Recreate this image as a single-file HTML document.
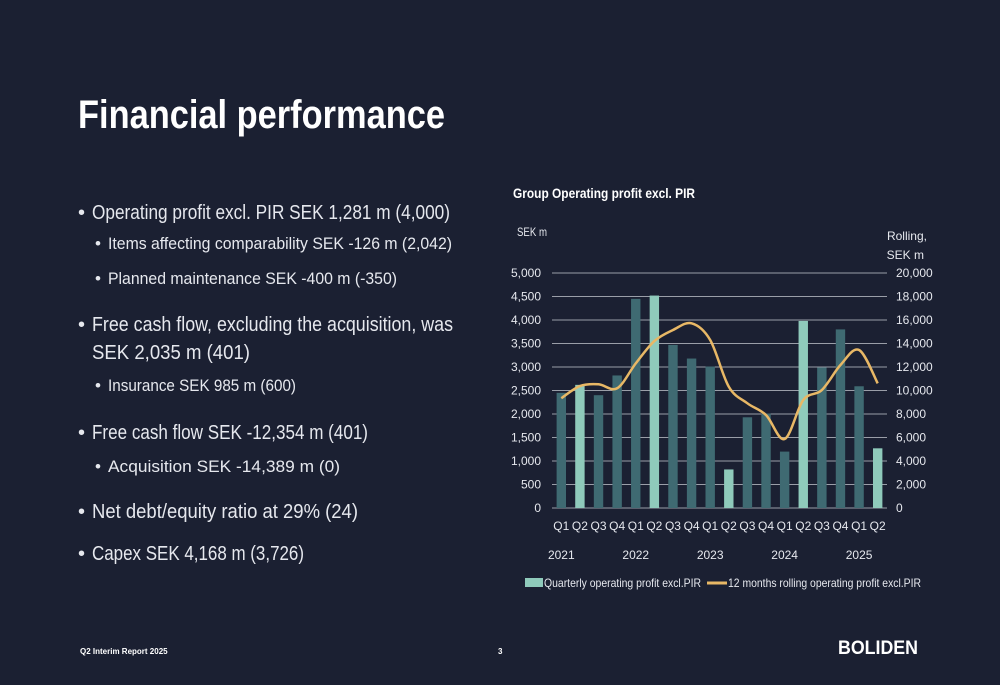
<!DOCTYPE html>
<html><head><meta charset="utf-8"><style>
html,body{margin:0;padding:0;background:#1b2032;}
svg{display:block;font-family:"Liberation Sans",sans-serif;}
</style></head><body>
<svg id="s" width="1000" height="685" viewBox="0 0 1000 685">
<rect width="1000" height="685" fill="#1b2032"/>
<text x="78" y="128" fill="#fff" font-size="40" font-weight="bold" textLength="367" lengthAdjust="spacingAndGlyphs">Financial performance</text>
<g fill="#e6e8ee">
<text x="78" y="219" font-size="20">•</text>
<text x="92" y="219" font-size="20" textLength="358" lengthAdjust="spacingAndGlyphs">Operating profit excl. PIR SEK 1,281 m (4,000)</text>
<text x="95" y="249" font-size="17">•</text>
<text x="108" y="249" font-size="17" textLength="344" lengthAdjust="spacingAndGlyphs">Items affecting comparability SEK -126 m (2,042)</text>
<text x="95" y="284" font-size="17">•</text>
<text x="108" y="284" font-size="17" textLength="289" lengthAdjust="spacingAndGlyphs">Planned maintenance SEK -400 m (-350)</text>
<text x="78" y="331" font-size="20">•</text>
<text x="92" y="331" font-size="20" textLength="361" lengthAdjust="spacingAndGlyphs">Free cash flow, excluding the acquisition, was</text>
<text x="92" y="359" font-size="20" textLength="158" lengthAdjust="spacingAndGlyphs">SEK 2,035 m (401)</text>
<text x="95" y="391" font-size="17">•</text>
<text x="108" y="391" font-size="17" textLength="188" lengthAdjust="spacingAndGlyphs">Insurance SEK 985 m (600)</text>
<text x="78" y="439" font-size="20">•</text>
<text x="92" y="439" font-size="20" textLength="276" lengthAdjust="spacingAndGlyphs">Free cash flow SEK -12,354 m (401)</text>
<text x="95" y="472" font-size="17">•</text>
<text x="108" y="472" font-size="17" textLength="232" lengthAdjust="spacingAndGlyphs">Acquisition SEK -14,389 m (0)</text>
<text x="78" y="518" font-size="20">•</text>
<text x="92" y="518" font-size="20" textLength="266" lengthAdjust="spacingAndGlyphs">Net debt/equity ratio at 29% (24)</text>
<text x="78" y="560" font-size="20">•</text>
<text x="92" y="560" font-size="20" textLength="212" lengthAdjust="spacingAndGlyphs">Capex SEK 4,168 m (3,726)</text>
</g>
<text x="513" y="198" fill="#fff" font-size="14" font-weight="bold" textLength="182" lengthAdjust="spacingAndGlyphs">Group Operating profit excl. PIR</text>
<text x="517" y="236" fill="#e6e8ee" font-size="12" textLength="30" lengthAdjust="spacingAndGlyphs">SEK m</text>
<text x="927" y="240" fill="#e6e8ee" font-size="12" text-anchor="end">Rolling,</text>
<text x="924" y="259" fill="#e6e8ee" font-size="12" text-anchor="end">SEK m</text>
<g id="grid"></g><g id="bars"></g><g id="line"></g><g id="labels"></g>
<rect x="525" y="578" width="18" height="9" fill="#8fcabb"/>
<text x="544" y="587" fill="#e6e8ee" font-size="12" textLength="157" lengthAdjust="spacingAndGlyphs">Quarterly operating profit excl.PIR</text>
<line x1="707" y1="583" x2="727" y2="583" stroke="#e8b866" stroke-width="3"/>
<text x="728" y="587" fill="#e6e8ee" font-size="12" textLength="193" lengthAdjust="spacingAndGlyphs">12 months rolling operating profit excl.PIR</text>
<text x="80" y="654" fill="#fff" font-size="8" font-weight="bold">Q2 Interim Report 2025</text>
<text x="498" y="654" fill="#fff" font-size="8" font-weight="bold">3</text>
<text x="838" y="654" fill="#fff" font-size="19" font-weight="bold" textLength="80" lengthAdjust="spacingAndGlyphs">BOLIDEN</text>
</svg>
<script>
const quarters=["Q1","Q2","Q3","Q4","Q1","Q2","Q3","Q4","Q1","Q2","Q3","Q4","Q1","Q2","Q3","Q4","Q1","Q2"];
const years=["2021","2022","2023","2024","2025"];
const quarterly=[2450,2620,2400,2820,4450,4520,3470,3180,3010,820,1930,2010,1200,3980,2990,3800,2590,1270];
const rolling=[9340,10380,10530,10190,12310,14210,15150,15720,14300,10320,8910,7910,5870,9190,10040,12170,13450,10610];
const leftTicks=[0,500,1000,1500,2000,2500,3000,3500,4000,4500,5000];
const rightTicks=[0,2000,4000,6000,8000,10000,12000,14000,16000,18000,20000];
const NS="http://www.w3.org/2000/svg";
const x0=552,x1=887,yB=508,yT=273;
const yL=v=>yB-(v/5000)*(yB-yT);
const yR=v=>yB-(v/20000)*(yB-yT);
const step=(x1-x0)/quarters.length;
const xc=i=>x0+step*(i+0.5);
function mk(t,a,p){const e=document.createElementNS(NS,t);for(const k in a)e.setAttribute(k,a[k]);document.getElementById(p).appendChild(e);return e;}
leftTicks.forEach((v,i)=>{
const l=mk("line",{x1:x0,x2:x1,y1:yL(v),y2:yL(v),stroke:"#9a9ea8","stroke-width":1},"grid");


const t=mk("text",{x:541,y:yL(v)+4,fill:"#e6e8ee","font-size":12,"text-anchor":"end"},"labels");t.textContent=v.toLocaleString("en-US");


});
rightTicks.forEach(v=>{
const t=mk("text",{x:896,y:yR(v)+4,fill:"#e6e8ee","font-size":12},"labels");t.textContent=v.toLocaleString("en-US");


});
quarterly.forEach((v,i)=>{
const b=mk("rect",{x:xc(i)-4.7,y:yL(v),width:9.4,height:yB-yL(v),fill:quarters[i]==="Q2"?"#8fcabb":"#3f6a72"},"bars");


const t=mk("text",{x:xc(i),y:530,fill:"#e6e8ee","font-size":12,"text-anchor":"middle"},"labels");t.textContent=quarters[i];


});
years.forEach((y,k)=>{
const t=mk("text",{x:xc(k*4),y:559,fill:"#e6e8ee","font-size":12,"text-anchor":"middle"},"labels");t.textContent=y;


});
const pts=rolling.map((v,i)=>[xc(i),yR(v)]);
let d="M"+pts[0][0]+","+pts[0][1];
for(let i=0;i<pts.length-1;i++){
const p0=pts[Math.max(i-1,0)],p1=pts[i],p2=pts[i+1],p3=pts[Math.min(i+2,pts.length-1)];
d+=" C"+(p1[0]+(p2[0]-p0[0])/6)+","+(p1[1]+(p2[1]-p0[1])/6)+" "+(p2[0]-(p3[0]-p1[0])/6)+","+(p2[1]-(p3[1]-p1[1])/6)+" "+p2[0]+","+p2[1];
}
const ln=mk("path",{d:d,fill:"none",stroke:"#e8b866","stroke-width":2.5},"line");


</script>
</body></html>
